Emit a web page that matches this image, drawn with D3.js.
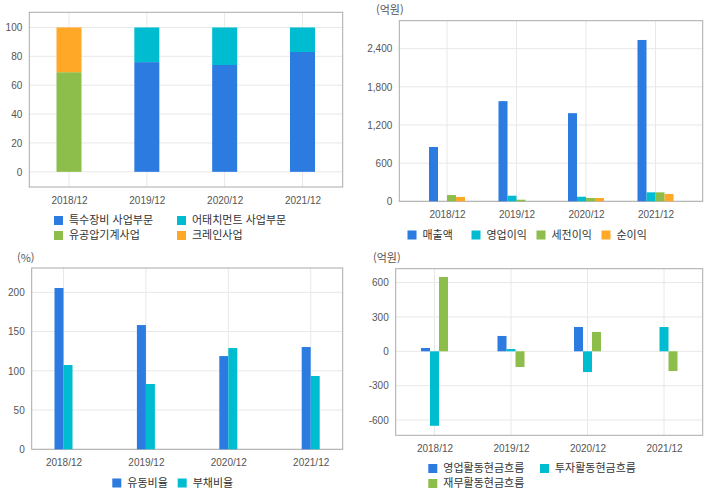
<!DOCTYPE html>
<html lang="ko">
<head>
<meta charset="UTF-8">
<title>재무 차트</title>
<script src="https://d3js.org/d3.v7.min.js"></script>
<style>
  body { margin: 0; background: #fff; }
  svg { display: block; font-family: "Noto Sans CJK KR", "DejaVu Sans", sans-serif; }
  .tick text { fill: #555; font-size: 10px; }
  .legend text { fill: #333; font-size: 11px; }
  .unit { fill: #555; font-size: 11px; }
</style>
</head>
<body>
<svg id="chart" width="720" height="496"></svg>
<script>
  const years = ['2018/12', '2019/12', '2020/12', '2021/12'];
  const colors = ['#2b7be0', '#00bcd0', '#8dbd4a', '#ffa726'];

  // 사업부문별 매출 비중 (%)
  const segNames = ['특수장비 사업부문', '어태치먼트 사업부문', '유공압기계사업', '크레인사업'];
  const segSpecial = [0, 76, 74, 83];
  const segAttach = [0, 24, 26, 17];
  const segHydraulic = [69, 0, 0, 0];
  const segCrane = [31, 0, 0, 0];

  // 손익 (억원)
  const plNames = ['매출액', '영업이익', '세전이익', '순이익'];
  const sales = [854, 1575, 1386, 2537];
  const opProfit = [0, 88, 72, 141];
  const preTax = [98, 25, 52, 141];
  const netProfit = [68, 0, 52, 115];

  // 비율 (%)
  const ratioNames = ['유동비율', '부채비율'];
  const currentRatio = [205.5, 158.3, 118.8, 130.3];
  const debtRatio = [107.4, 83.2, 129.0, 93.4];

  // 현금흐름 (억원)
  const cfNames = ['영업활동현금흐름', '투자활동현금흐름', '재무활동현금흐름'];
  const cfOperating = [29, 134, 212, 0];
  const cfInvesting = [-650, 20, -181, 212];
  const cfFinancing = [649, -137, 169, -172];

  const svg = d3.select('#chart');
  const fmt = d => d3.format(',')(d).replace('\u2212', '-');

  function frame(g, box, y, ticks, x) {
    g.append('g').selectAll('line.h').data(ticks).join('line')
      .attr('x1', box.x0).attr('x2', box.x1)
      .attr('y1', d => y(d)).attr('y2', d => y(d))
      .attr('stroke', '#e8e8e8');
    g.append('g').selectAll('line.v').data(years).join('line')
      .attr('x1', d => x(d)).attr('x2', d => x(d))
      .attr('y1', box.y0).attr('y2', box.y1)
      .attr('stroke', '#e8e8e8');

    const ya = g.append('g').attr('transform', `translate(${box.x0},0)`)
      .call(d3.axisLeft(y).tickValues(ticks).tickFormat(fmt).tickSize(0).tickPadding(7));
    ya.select('.domain').remove();

    const xa = g.append('g').attr('transform', `translate(0,${box.y1})`)
      .call(d3.axisBottom(x).tickSize(0).tickPadding(10));
    xa.select('.domain').remove();

    g.append('rect')
      .attr('x', box.x0).attr('y', box.y0)
      .attr('width', box.x1 - box.x0).attr('height', box.y1 - box.y0)
      .attr('fill', 'none').attr('stroke', '#aaa');
  }

  function legend(g, items) {
    const it = g.append('g').attr('class', 'legend').selectAll('g').data(items).join('g')
      .attr('transform', d => `translate(${d.x},${d.y})`);
    it.append('rect').attr('x', 0).attr('y', -4.5).attr('width', 9).attr('height', 9)
      .attr('fill', d => d.color);
    it.append('text').attr('x', 15).attr('dy', '0.36em').text(d => d.name);
  }

  function groupedBars(g, x, y, series, barW) {
    const n = series.length;
    series.forEach((vals, si) => {
      g.append('g').selectAll('rect').data(vals).join('rect')
        .attr('x', (d, i) => x(years[i]) - n * barW / 2 + si * barW)
        .attr('y', d => y(Math.max(0, d)))
        .attr('width', barW)
        .attr('height', d => Math.abs(y(d) - y(0)))
        .attr('fill', colors[si]);
    });
  }

  // ---- chart 1: stacked 100% ----
  {
    const box = { x0: 29.3, x1: 342.7, y0: 12.3, y1: 187 };
    const g = svg.append('g');
    const y = d3.scaleLinear().domain([-10.5, 110.5]).range([box.y1, box.y0]);
    const x = d3.scalePoint().domain(years).range([69, 302.5]);
    frame(g, box, y, [0, 20, 40, 60, 80, 100], x);

    const rows = years.map((yr, i) => ({
      year: yr, a: segSpecial[i], b: segAttach[i], c: segHydraulic[i], d: segCrane[i]
    }));
    const order = ['c', 'a', 'd', 'b'];
    const colorOf = { a: colors[0], b: colors[1], c: colors[2], d: colors[3] };
    const stack = d3.stack().keys(order)(rows);
    g.append('g').selectAll('g').data(stack).join('g')
      .attr('fill', s => colorOf[s.key])
      .selectAll('rect').data(s => s).join('rect')
      .attr('x', d => x(d.data.year) - 12.5)
      .attr('width', 25)
      .attr('y', d => y(d[1]))
      .attr('height', d => y(d[0]) - y(d[1]));

    legend(g, [
      { name: segNames[0], color: colors[0], x: 54, y: 220.5 },
      { name: segNames[1], color: colors[1], x: 177, y: 220.5 },
      { name: segNames[2], color: colors[2], x: 54, y: 235.5 },
      { name: segNames[3], color: colors[3], x: 177, y: 235.5 }
    ]);
  }

  // ---- chart 2: 손익 ----
  {
    const box = { x0: 399.3, x1: 702.7, y0: 20.7, y1: 201.3 };
    const g = svg.append('g');
    const y = d3.scaleLinear().domain([0, 2840]).range([box.y1, box.y0]);
    const x = d3.scalePoint().domain(years).range([447, 655.5]);
    frame(g, box, y, [0, 600, 1200, 1800, 2400], x);
    groupedBars(g, x, y, [sales, opProfit, preTax, netProfit], 9);
    g.append('text').attr('class', 'unit').attr('x', 376).attr('y', 14).text('(억원)');
    legend(g, [
      { name: plNames[0], color: colors[0], x: 407.5, y: 235 },
      { name: plNames[1], color: colors[1], x: 471.5, y: 235 },
      { name: plNames[2], color: colors[2], x: 536.5, y: 235 },
      { name: plNames[3], color: colors[3], x: 601.5, y: 235 }
    ]);
  }

  // ---- chart 3: 비율 ----
  {
    const box = { x0: 31.7, x1: 342.7, y0: 268, y1: 449.3 };
    const g = svg.append('g');
    const y = d3.scaleLinear().domain([0, 231]).range([box.y1, box.y0]);
    const x = d3.scalePoint().domain(years).range([63.5, 310.7]);
    frame(g, box, y, [0, 50, 100, 150, 200], x);
    groupedBars(g, x, y, [currentRatio, debtRatio], 9);
    g.append('text').attr('class', 'unit').attr('x', 17).attr('y', 262).text('(%)');
    legend(g, [
      { name: ratioNames[0], color: colors[0], x: 112.3, y: 483 },
      { name: ratioNames[1], color: colors[1], x: 177.7, y: 483 }
    ]);
  }

  // ---- chart 4: 현금흐름 ----
  {
    const box = { x0: 395.7, x1: 702.7, y0: 268.7, y1: 435.3 };
    const g = svg.append('g');
    const y = d3.scaleLinear().domain([-733, 721]).range([box.y1, box.y0]);
    const x = d3.scalePoint().domain(years).range([434.5, 664]);
    frame(g, box, y, [-600, -300, 0, 300, 600], x);
    groupedBars(g, x, y, [cfOperating, cfInvesting, cfFinancing], 9);
    g.append('text').attr('class', 'unit').attr('x', 373).attr('y', 262).text('(억원)');
    legend(g, [
      { name: cfNames[0], color: colors[0], x: 428.3, y: 468.5 },
      { name: cfNames[1], color: colors[1], x: 540, y: 468.5 },
      { name: cfNames[2], color: colors[2], x: 428.3, y: 483.5 }
    ]);
  }
</script>
</body>
</html>
